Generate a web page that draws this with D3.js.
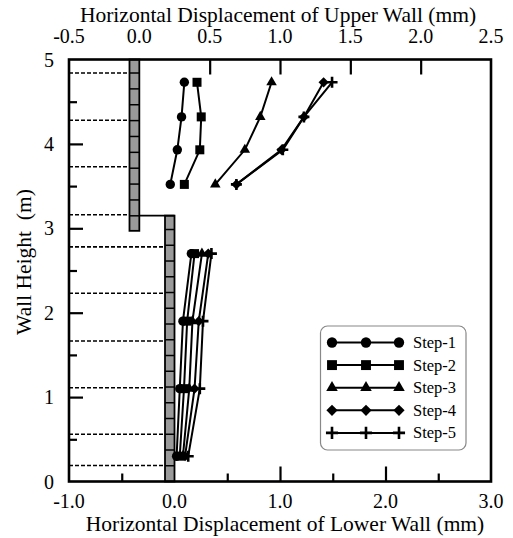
<!DOCTYPE html>
<html><head><meta charset="utf-8">
<script src="https://cdn.jsdelivr.net/npm/d3@7"></script>
</head><body style="margin:0;background:#fff"><svg id="c" width="513" height="538" style="display:block" font-family="Liberation Serif"></svg>
<script>
// ---- data ----
const stepNames = ["Step-1","Step-2","Step-3","Step-4","Step-5"];
const upperHeights = [4.73, 4.32, 3.93, 3.52];
const upperStep1 = [0.32, 0.30, 0.27, 0.22];
const upperStep2 = [0.41, 0.44, 0.43, 0.32];
const upperStep3 = [0.94, 0.86, 0.75, 0.54];
const upperStep4 = [1.31, 1.17, 1.01, 0.69];
const upperStep5 = [1.37, 1.17, 1.02, 0.69];
const lowerHeights = [2.7, 1.9, 1.1, 0.3];
const lowerStep1 = [0.16, 0.08, 0.05, 0.02];
const lowerStep2 = [0.19, 0.12, 0.09, 0.05];
const lowerStep3 = [0.26, 0.17, 0.14, 0.08];
const lowerStep4 = [0.32, 0.23, 0.19, 0.10];
const lowerStep5 = [0.35, 0.27, 0.24, 0.13];
const upperDashLevels = [4.84, 4.28, 3.73, 3.16];
const lowerDashLevels = [2.78, 2.23, 1.665, 1.11, 0.56, 0.19];
const topTicks = [-0.5, 0.0, 0.5, 1.0, 1.5, 2.0, 2.5];
const bottomTicks = [-1.0, 0.0, 1.0, 2.0, 3.0];
const yTicks = [0, 1, 2, 3, 4, 5];
const upperWall = {x0: -0.07, x1: 0, y0: 2.97, y1: 5};
const lowerWall = {x0: -0.09, x1: 0, y0: 0, y1: 3.15};

const upperSeries = [upperStep1, upperStep2, upperStep3, upperStep4, upperStep5];
const lowerSeries = [lowerStep1, lowerStep2, lowerStep3, lowerStep4, lowerStep5];

// ---- layout ----
const FONT = "Liberation Serif";
const L = 69, R = 491, T = 59.5, B = 481.5;
const svg = d3.select("#c");
const xTop = d3.scaleLinear([-0.5, 2.5], [L, R]);
const xBot = d3.scaleLinear([-1, 3], [L, R]);
const y = d3.scaleLinear([0, 5], [B, T]);

// axes ticks (inward)
svg.append("g").attr("transform", `translate(0,${T})`)
  .call(d3.axisBottom(xTop).tickValues([0.5,1,1.5,2]).tickSize(15).tickFormat(""));
svg.append("g").attr("transform", `translate(0,${B})`)
  .call(d3.axisTop(xBot).tickValues([1,2]).tickSize(15).tickFormat(""));
svg.append("g").attr("transform", `translate(0,${B})`)
  .call(d3.axisTop(xBot).tickValues([-0.5,0.5,1.5,2.5]).tickSize(8).tickFormat(""));
svg.append("g").attr("transform", `translate(${L},0)`)
  .call(d3.axisRight(y).tickValues([1,2,3,4]).tickSize(14).tickFormat(""));
svg.append("g").attr("transform", `translate(${L},0)`)
  .call(d3.axisRight(y).tickValues([0.5,1.5,2.5,3.5,4.5]).tickSize(8).tickFormat(""));
svg.selectAll(".domain").remove();
svg.selectAll(".tick line").attr("stroke","#000").attr("stroke-width",2.2);

const labels = svg.append("g").attr("font-family", FONT).attr("fill", "#000");
const fmt = d => d3.format(".1f")(d).replace("\u2212","-");

// tick labels
labels.append("g").selectAll("text").data(topTicks).join("text")
  .attr("x", d => xTop(d)).attr("y", 43).attr("text-anchor","middle")
  .attr("font-size", 20).text(fmt);
labels.append("g").selectAll("text").data(bottomTicks).join("text")
  .attr("x", d => xBot(d)).attr("y", 508).attr("text-anchor","middle")
  .attr("font-size", 20).text(fmt);
labels.append("g").selectAll("text").data(yTicks).join("text")
  .attr("x", 54).attr("y", d => y(d) + 7).attr("text-anchor","end")
  .attr("font-size", 20).text(d => d);

// titles
labels.append("text").attr("x", 278).attr("y", 22).attr("text-anchor","middle")
  .attr("font-size", 21.5).text("Horizontal Displacement of Upper Wall (mm)");
labels.append("text").attr("x", 285).attr("y", 531).attr("text-anchor","middle")
  .attr("font-size", 21.5).text("Horizontal Displacement of Lower Wall (mm)");
labels.append("text").attr("transform","translate(31,262) rotate(-90)").attr("text-anchor","middle")
  .attr("font-size", 21.5).attr("xml:space","preserve").text("Wall Height\u00a0\u00a0(m)");

// dashed sensor lines
svg.append("g").selectAll("line").data(upperDashLevels).join("line")
  .attr("x1", L).attr("x2", xTop(upperWall.x0)).attr("y1", d => y(d)).attr("y2", d => y(d))
  .attr("stroke","#000").attr("stroke-width",1.6).attr("stroke-dasharray","4,2");
svg.append("g").selectAll("line").data(lowerDashLevels).join("line")
  .attr("x1", L).attr("x2", xBot(lowerWall.x0)).attr("y1", d => y(d)).attr("y2", d => y(d))
  .attr("stroke","#000").attr("stroke-width",1.6).attr("stroke-dasharray","4,2");

// walls
const wallFill = "#9a9a9a";
svg.append("rect").attr("x", xTop(upperWall.x0)).attr("y", y(upperWall.y1))
  .attr("width", xTop(upperWall.x1) - xTop(upperWall.x0)).attr("height", y(upperWall.y0) - y(upperWall.y1))
  .attr("fill", wallFill).attr("stroke","#000").attr("stroke-width",1.8);
svg.append("rect").attr("x", xBot(lowerWall.x0)).attr("y", y(lowerWall.y1))
  .attr("width", xBot(lowerWall.x1) - xBot(lowerWall.x0)).attr("height", y(lowerWall.y0) - y(lowerWall.y1))
  .attr("fill", wallFill).attr("stroke","#000").attr("stroke-width",1.8);
const upperJoints = d3.range(0, 10).map(k => 4.84 - k * 0.188);
const lowerJoints = d3.range(1, 17).map(k => k * 0.1866);
svg.append("g").selectAll("line").data(upperJoints).join("line")
  .attr("x1", xTop(upperWall.x0)).attr("x2", xTop(upperWall.x1)).attr("y1", d => y(d)).attr("y2", d => y(d))
  .attr("stroke","#000").attr("stroke-width",1.5);
svg.append("g").selectAll("line").data(lowerJoints).join("line")
  .attr("x1", xBot(lowerWall.x0)).attr("x2", xBot(lowerWall.x1)).attr("y1", d => y(d)).attr("y2", d => y(d))
  .attr("stroke","#000").attr("stroke-width",1.5);
svg.append("line").attr("x1", xTop(upperWall.x1)).attr("x2", xBot(lowerWall.x1))
  .attr("y1", y(lowerWall.y1)).attr("y2", y(lowerWall.y1)).attr("stroke","#000").attr("stroke-width",1.8);

// markers
function drawMarker(g, i, cx, cy, s) {
  s = s || 1;
  if (i === 0) g.append("circle").attr("cx",cx).attr("cy",cy).attr("r",4.7*s).attr("fill","#000");
  else if (i === 1) g.append("rect").attr("x",cx-4.5*s).attr("y",cy-4.5*s).attr("width",9*s).attr("height",9*s).attr("fill","#000");
  else if (i === 2) g.append("path").attr("transform",`translate(${cx},${cy})`).attr("d", d3.symbol(d3.symbolTriangle, 48*s*s)()).attr("fill","#000");
  else if (i === 3) g.append("rect").attr("x",-3.6*s).attr("y",-3.6*s).attr("width",7.2*s).attr("height",7.2*s)
      .attr("transform",`translate(${cx},${cy}) rotate(45)`).attr("fill","#000");
  else g.append("path").attr("d",`M${cx-5.5*s},${cy}H${cx+5.5*s}M${cx},${cy-5.5*s}V${cy+5.5*s}`).attr("stroke","#000").attr("stroke-width",2.6);
}
const line = d3.line();
function drawSeries(series, heights, xs) {
  series.forEach((vals, i) => {
    const pts = vals.map((v, j) => [xs(v), y(heights[j])]);
    svg.append("path").attr("d", line(pts)).attr("fill","none").attr("stroke","#000").attr("stroke-width",2);
    const g = svg.append("g");
    pts.forEach(p => drawMarker(g, i, p[0], p[1]));
  });
}
drawSeries(upperSeries, upperHeights, xTop);
drawSeries(lowerSeries, lowerHeights, xBot);

// frame
svg.append("rect").attr("x", L).attr("y", T).attr("width", R - L).attr("height", B - T)
  .attr("fill","none").attr("stroke","#000").attr("stroke-width",2.6);

// legend
const lg = svg.append("g");
lg.append("rect").attr("x", 320.5).attr("y", 326).attr("width", 145.5).attr("height", 124).attr("rx", 7)
  .attr("fill","#fff").attr("stroke","#888").attr("stroke-width",1.2);
stepNames.forEach((name, i) => {
  const yy = 342.5 + i * 22.6;
  lg.append("line").attr("x1",332).attr("x2",399).attr("y1",yy).attr("y2",yy).attr("stroke","#000").attr("stroke-width",2);
  [332, 366, 399].forEach(xx => drawMarker(lg, i, xx, yy, 1.1));
  lg.append("text").attr("font-family", FONT).attr("fill","#000").attr("x", 413).attr("y", yy + 5.5).attr("font-size", 16.5).text(name);
});
</script></body></html>
